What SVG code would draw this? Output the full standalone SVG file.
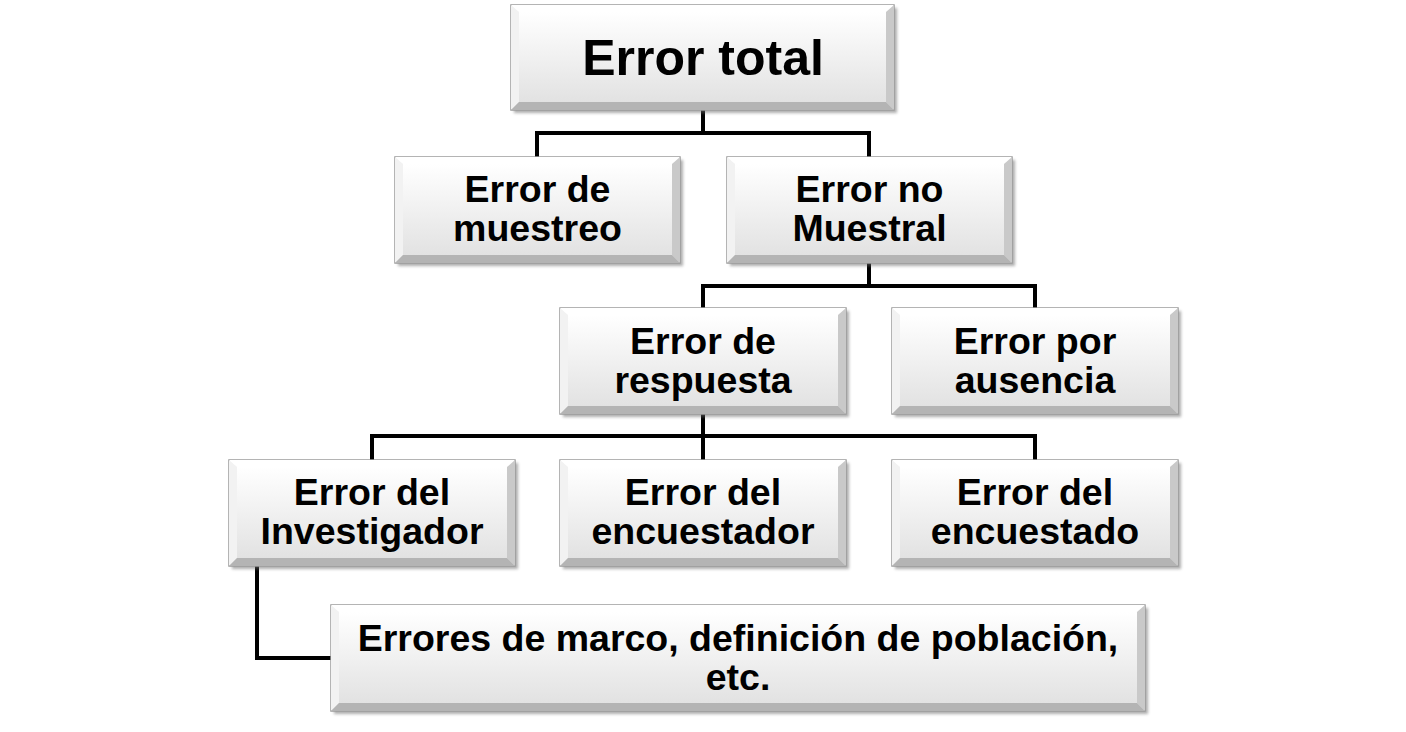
<svg xmlns="http://www.w3.org/2000/svg" width="1406" height="732" viewBox="0 0 1406 732">
<style>
.conn{fill:none;stroke:#000;stroke-width:4}
.shadow{fill:#6a6a6a;opacity:.55;filter:url(#blur)}
.outer{fill:url(#face);stroke:#9c9c9c;stroke-width:1.5}
.bt{fill:#ffffff}
.bl{fill:#f2f2f2}
.br{fill:#c9c9c9}
.bb{fill:#b4b4b4}
.inner{fill:url(#face)}
.t{font-family:"Liberation Sans",Arial,sans-serif;font-weight:bold;font-size:37.5px;fill:#000;text-anchor:middle}
.big{font-size:50px}
</style>
<defs>
<linearGradient id="face" x1="0" y1="0" x2="0" y2="1">
<stop offset="0" stop-color="#ffffff"/>
<stop offset="1" stop-color="#e2e2e2"/>
</linearGradient>
<filter id="blur" x="-5%" y="-10%" width="110%" height="130%"><feGaussianBlur stdDeviation="1.5"/></filter>
</defs>
<rect width="1406" height="732" fill="#fff"/>
<g id="connectors">
<path class="conn" d="M703 110V133M537 157V133H869V157"/>
<path class="conn" d="M869 263V286M703 308V286H1035V308"/>
<path class="conn" d="M703 414V460M372 460V436H1035V460"/>
<path class="conn" d="M257 566V658H331"/>
</g>
<g id="n_total">
<rect class="shadow" x="514" y="8" width="383" height="105"/>
<rect class="outer" x="511" y="5" width="383" height="105"/>
<polygon class="bt" points="511,5 894,5 886,12 519,12"/>
<polygon class="bl" points="511,5 519,12 519,102 511,110"/>
<polygon class="br" points="894,5 894,110 886,102 886,12"/>
<polygon class="bb" points="511,110 519,102 886,102 894,110"/>
<rect class="inner" x="519" y="12" width="367" height="90"/>
<text class="t big" x="703" y="75">Error total</text>
</g>
<g id="n_muestreo">
<rect class="shadow" x="398" y="160" width="285" height="106"/>
<rect class="outer" x="395" y="157" width="285" height="106"/>
<polygon class="bt" points="395,157 680,157 672,164 403,164"/>
<polygon class="bl" points="395,157 403,164 403,255 395,263"/>
<polygon class="br" points="680,157 680,263 672,255 672,164"/>
<polygon class="bb" points="395,263 403,255 672,255 680,263"/>
<rect class="inner" x="403" y="164" width="269" height="91"/>
<text class="t" x="537.5" y="202">Error de</text>
<text class="t" x="537.5" y="241">muestreo</text>
</g>
<g id="n_nomuestral">
<rect class="shadow" x="730" y="160" width="285" height="106"/>
<rect class="outer" x="727" y="157" width="285" height="106"/>
<polygon class="bt" points="727,157 1012,157 1004,164 735,164"/>
<polygon class="bl" points="727,157 735,164 735,255 727,263"/>
<polygon class="br" points="1012,157 1012,263 1004,255 1004,164"/>
<polygon class="bb" points="727,263 735,255 1004,255 1012,263"/>
<rect class="inner" x="735" y="164" width="269" height="91"/>
<text class="t" x="869.5" y="202">Error no</text>
<text class="t" x="869.5" y="241">Muestral</text>
</g>
<g id="n_respuesta">
<rect class="shadow" x="563" y="311" width="286" height="106"/>
<rect class="outer" x="560" y="308" width="286" height="106"/>
<polygon class="bt" points="560,308 846,308 838,315 568,315"/>
<polygon class="bl" points="560,308 568,315 568,406 560,414"/>
<polygon class="br" points="846,308 846,414 838,406 838,315"/>
<polygon class="bb" points="560,414 568,406 838,406 846,414"/>
<rect class="inner" x="568" y="315" width="270" height="91"/>
<text class="t" x="703" y="354">Error de</text>
<text class="t" x="703" y="393">respuesta</text>
</g>
<g id="n_ausencia">
<rect class="shadow" x="895" y="311" width="286" height="106"/>
<rect class="outer" x="892" y="308" width="286" height="106"/>
<polygon class="bt" points="892,308 1178,308 1170,315 900,315"/>
<polygon class="bl" points="892,308 900,315 900,406 892,414"/>
<polygon class="br" points="1178,308 1178,414 1170,406 1170,315"/>
<polygon class="bb" points="892,414 900,406 1170,406 1178,414"/>
<rect class="inner" x="900" y="315" width="270" height="91"/>
<text class="t" x="1035" y="354">Error por</text>
<text class="t" x="1035" y="393">ausencia</text>
</g>
<g id="n_investigador">
<rect class="shadow" x="232" y="463" width="286" height="106"/>
<rect class="outer" x="229" y="460" width="286" height="106"/>
<polygon class="bt" points="229,460 515,460 507,467 237,467"/>
<polygon class="bl" points="229,460 237,467 237,558 229,566"/>
<polygon class="br" points="515,460 515,566 507,558 507,467"/>
<polygon class="bb" points="229,566 237,558 507,558 515,566"/>
<rect class="inner" x="237" y="467" width="270" height="91"/>
<text class="t" x="372" y="505">Error del</text>
<text class="t" x="372" y="544">Investigador</text>
</g>
<g id="n_encuestador">
<rect class="shadow" x="563" y="463" width="286" height="106"/>
<rect class="outer" x="560" y="460" width="286" height="106"/>
<polygon class="bt" points="560,460 846,460 838,467 568,467"/>
<polygon class="bl" points="560,460 568,467 568,558 560,566"/>
<polygon class="br" points="846,460 846,566 838,558 838,467"/>
<polygon class="bb" points="560,566 568,558 838,558 846,566"/>
<rect class="inner" x="568" y="467" width="270" height="91"/>
<text class="t" x="703" y="505">Error del</text>
<text class="t" x="703" y="544">encuestador</text>
</g>
<g id="n_encuestado">
<rect class="shadow" x="895" y="463" width="286" height="106"/>
<rect class="outer" x="892" y="460" width="286" height="106"/>
<polygon class="bt" points="892,460 1178,460 1170,467 900,467"/>
<polygon class="bl" points="892,460 900,467 900,558 892,566"/>
<polygon class="br" points="1178,460 1178,566 1170,558 1170,467"/>
<polygon class="bb" points="892,566 900,558 1170,558 1178,566"/>
<rect class="inner" x="900" y="467" width="270" height="91"/>
<text class="t" x="1035" y="505">Error del</text>
<text class="t" x="1035" y="544">encuestado</text>
</g>
<g id="n_marco">
<rect class="shadow" x="334" y="608" width="814" height="106"/>
<rect class="outer" x="331" y="605" width="814" height="106"/>
<polygon class="bt" points="331,605 1145,605 1137,612 339,612"/>
<polygon class="bl" points="331,605 339,612 339,703 331,711"/>
<polygon class="br" points="1145,605 1145,711 1137,703 1137,612"/>
<polygon class="bb" points="331,711 339,703 1137,703 1145,711"/>
<rect class="inner" x="339" y="612" width="798" height="91"/>
<text class="t" x="738" y="651">Errores de marco, definición de población,</text>
<text class="t" x="738" y="690">etc.</text>
</g>
</svg>
